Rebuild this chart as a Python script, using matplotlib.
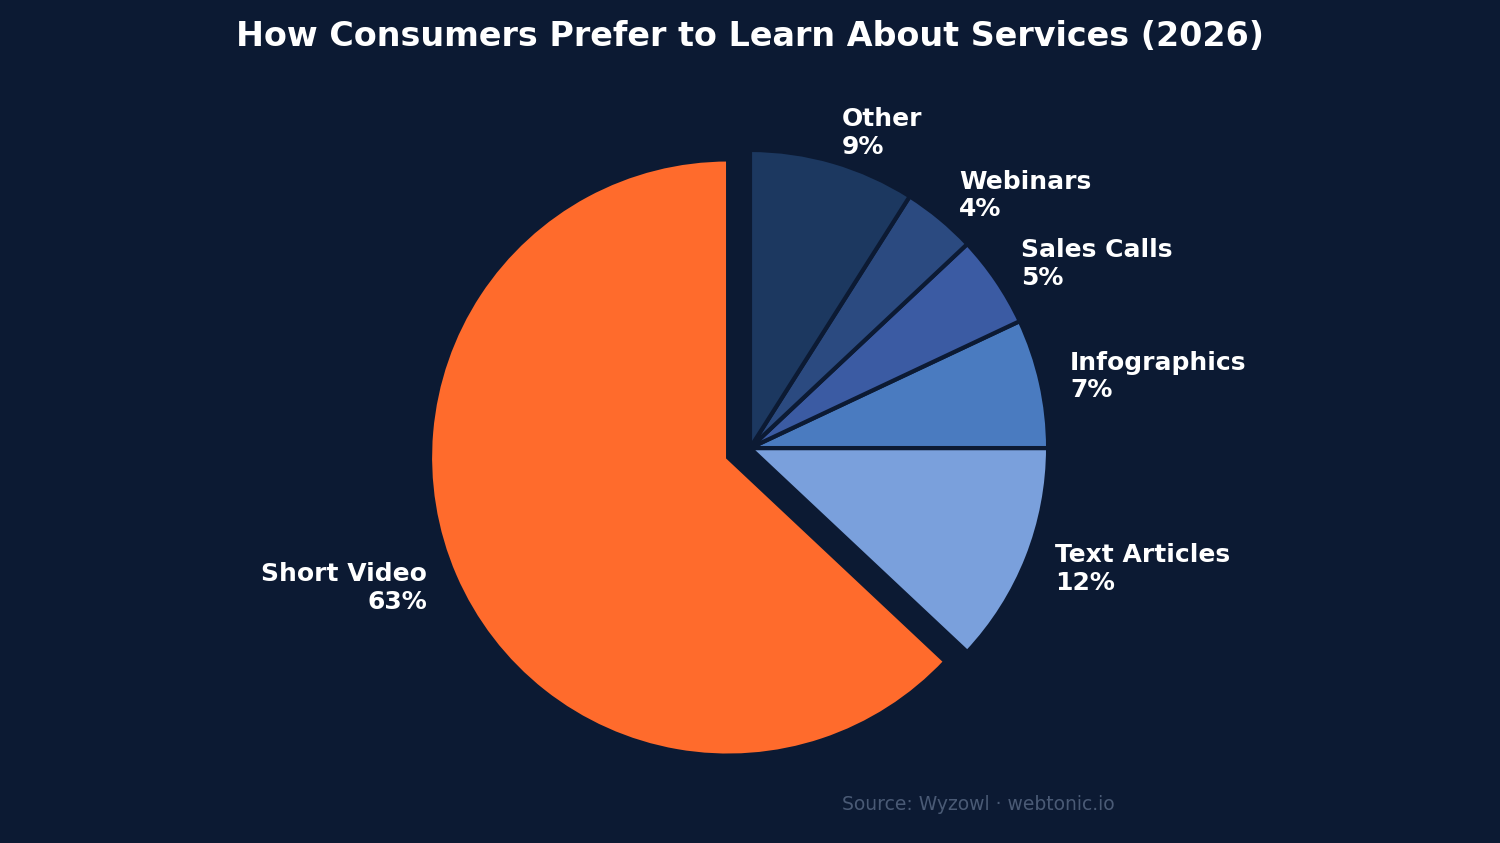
import matplotlib
matplotlib.use("Agg")
import matplotlib.pyplot as plt

categories = ["Short Video", "Text Articles", "Infographics", "Sales Calls", "Webinars", "Other"]
values = [63, 12, 7, 5, 4, 9]
colors = ["#ff6b2c", "#7aa0dc", "#4a7bc0", "#3b5ba3", "#2b4a80", "#1c3860"]
explode = [0.08, 0, 0, 0, 0, 0]

bg = "#0c1a33"
fig = plt.figure(figsize=(15, 8.43), dpi=100, facecolor=bg)
ax = fig.add_axes([0, 0.0265, 1, 0.884])
ax.set_facecolor(bg)

labels = [f"{c}\n{v}%" for c, v in zip(categories, values)]
wedges, texts = ax.pie(values, labels=labels, colors=colors, explode=explode,
                       startangle=90, counterclock=True, labeldistance=1.1,
                       wedgeprops=dict(edgecolor=bg, linewidth=3),
                       textprops=dict(color="white", fontsize=18, fontweight="bold"))
ax.set_aspect("equal")

fig.suptitle("How Consumers Prefer to Learn About Services (2026)", color="white",
             fontsize=24, fontweight="bold", y=0.976)
fig.text(0.652, 0.046, "Source: Wyzowl · webtonic.io", color="#4a5a75", fontsize=13.5,
         ha="center", va="center")

fig.savefig("out.png", dpi=100, facecolor=bg)
